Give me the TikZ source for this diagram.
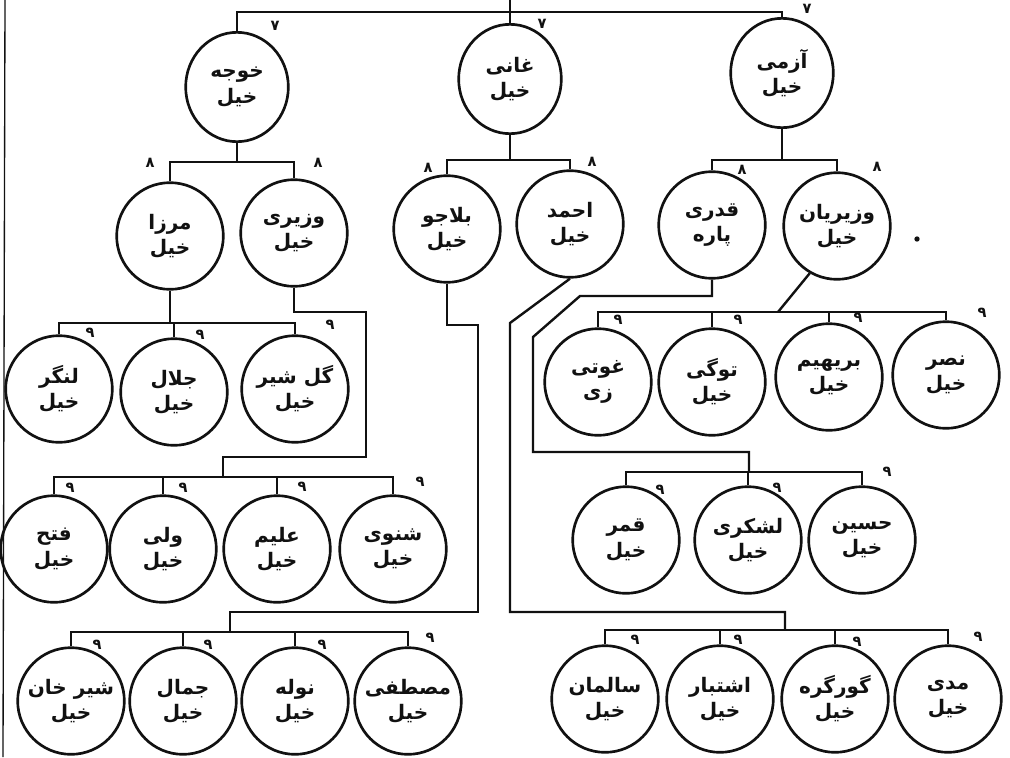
\documentclass[tikz,border=0pt]{standalone}
\usepackage{fontspec}
\usepackage{tikz}
\usetikzlibrary{shapes.geometric}
\TeXXeTstate=1
\newfontfamily\arabicfont[Script=Arabic]{DejaVu Sans}
\newcommand{\ur}[1]{{\arabicfont\beginR #1\endR}}
\definecolor{inkblack}{HTML}{111111}

\begin{document}
\begin{tikzpicture}[x=0.75pt, y=-0.75pt,
    khel/.style={circle, draw=inkblack, line width=2pt, minimum size=80pt, inner sep=0pt, font=\fontsize{15}{19}\selectfont\bfseries, align=center, text=inkblack},
    topkhel/.style={khel, ellipse, minimum width=77pt, minimum height=82pt},
    gennum/.style={font=\fontsize{11}{12}\selectfont\bfseries, inner sep=0pt, text=inkblack},
    link/.style={draw=inkblack, line width=1.8pt}
]
\fill[white] (0,0) rectangle (1010,757);
\useasboundingbox (0,0) rectangle (1010,757);

% first generation
\node[topkhel] (khoja) at (237,87) {\ur{خوجه}\\\ur{خیل}};
\node[topkhel] (ghani) at (510,79) {\ur{غانی}\\\ur{خیل}};
\node[topkhel] (azmi) at (782,73) {\ur{آزمی}\\\ur{خیل}};

% second generation
\node[khel] (mirza) at (170,236) {\ur{مرزا}\\\ur{خیل}};
\node[khel] (waziri) at (294,233) {\ur{وزیری}\\\ur{خیل}};
\node[khel] (balaju) at (447,229) {\ur{بلاجو}\\\ur{خیل}};
\node[khel] (ahmad) at (570,224) {\ur{احمد}\\\ur{خیل}};
\node[khel] (qadri) at (712,225) {\ur{قدری}\\\ur{پاره}};
\node[khel] (waziryan) at (837,226) {\ur{وزیریان}\\\ur{خیل}};

% third generation
\node[khel] (langar) at (59,389) {\ur{لنگر}\\\ur{خیل}};
\node[khel] (jalal) at (174,392) {\ur{جلال}\\\ur{خیل}};
\node[khel] (gulsher) at (295,389) {\ur{گل شیر}\\\ur{خیل}};
\node[khel] (ghoti) at (598,382) {\ur{غوتی}\\\ur{زی}};
\node[khel] (togi) at (712,382) {\ur{توگی}\\\ur{خیل}};
\node[khel] (brahim) at (829,377) {\ur{بریهیم}\\\ur{خیل}};
\node[khel] (nasr) at (946,375) {\ur{نصر}\\\ur{خیل}};

% fourth generation
\node[khel] (fatah) at (54,549) {\ur{فتح}\\\ur{خیل}};
\node[khel] (wali) at (163,549) {\ur{ولی}\\\ur{خیل}};
\node[khel] (alim) at (277,549) {\ur{علیم}\\\ur{خیل}};
\node[khel] (shanwi) at (393,549) {\ur{شنوی}\\\ur{خیل}};
\node[khel] (qamar) at (626,540) {\ur{قمر}\\\ur{خیل}};
\node[khel] (lashkari) at (748,540) {\ur{لشکری}\\\ur{خیل}};
\node[khel] (husain) at (862,540) {\ur{حسین}\\\ur{خیل}};

% fifth generation
\node[khel] (sherkhan) at (71,701) {\ur{شیر خان}\\\ur{خیل}};
\node[khel] (jamal) at (183,701) {\ur{جمال}\\\ur{خیل}};
\node[khel] (nola) at (295,701) {\ur{نوله}\\\ur{خیل}};
\node[khel] (mustafa) at (408,701) {\ur{مصطفی}\\\ur{خیل}};
\node[khel] (salman) at (605,699) {\ur{سالمان}\\\ur{خیل}};
\node[khel] (ishtabar) at (720,699) {\ur{اشتبار}\\\ur{خیل}};
\node[khel] (gorgara) at (835,699) {\ur{گورگره}\\\ur{خیل}};
\node[khel] (madi) at (948,699) {\ur{مدی}\\\ur{خیل}};

% junctions and bends
\coordinate (top) at (ghani.north |- 0,0);
\coordinate (topbar) at (ghani.north |- 0,12);
\coordinate (kbar) at (khoja.south |- 0,162);
\coordinate (gbar) at (ghani.south |- 0,160);
\coordinate (abar) at (azmi.south |- 0,160);
\coordinate (mbar) at (mirza.south |- 0,323);
\coordinate (wturn) at (366,312);
\coordinate (wdrop) at (223,457);
\coordinate (wbar) at (223,477);
\coordinate (bturn) at (478,325);
\coordinate (bdrop) at (230,612);
\coordinate (bbar) at (230,632);
\coordinate (hbend) at (510,323);
\coordinate (hdrop) at (785,612);
\coordinate (hbar) at (785,630);
\coordinate (qturn) at (580,296);
\coordinate (qbend) at (533,337);
\coordinate (qdrop) at (749,452);
\coordinate (qbar) at (749,472);
\coordinate (zbar) at (778,312);
\coordinate (edgetop) at (5,0);
\coordinate (edgebot) at (3,757);

% connectors
\draw[link] (top) -- (ghani.north);
\draw[link] (khoja.north) |- (topbar) -| (azmi.north);
\draw[link] (khoja.south) -- (kbar);
\draw[link] (mirza.north) |- (kbar) -| (waziri.north);
\draw[link] (ghani.south) -- (gbar);
\draw[link] (balaju.north) |- (gbar) -| (ahmad.north);
\draw[link] (azmi.south) -- (abar);
\draw[link] (qadri.north) |- (abar) -| (waziryan.north);

\draw[link] (mirza.south) -- (mbar);
\draw[link] (langar.north) |- (mbar) -| (gulsher.north);
\draw[link] (jalal.north) -- (jalal.north |- mbar);

\draw[link] (waziri.south) |- (wturn) |- (wdrop) -- (wbar);
\draw[link] (fatah.north) |- (wbar) -| (shanwi.north);
\draw[link] (wali.north) -- (wali.north |- wbar);
\draw[link] (alim.north) -- (alim.north |- wbar);

\draw[link] (balaju.south) |- (bturn) |- (bdrop) -- (bbar);
\draw[link] (sherkhan.north) |- (bbar) -| (mustafa.north);
\draw[link] (jamal.north) -- (jamal.north |- bbar);
\draw[link] (nola.north) -- (nola.north |- bbar);

\draw[link] (ahmad.south) -- (hbend) |- (hdrop) -- (hbar);
\draw[link] (salman.north) |- (hbar) -| (madi.north);
\draw[link] (ishtabar.north) -- (ishtabar.north |- hbar);
\draw[link] (gorgara.north) -- (gorgara.north |- hbar);

\draw[link] (qadri.south) |- (qturn) -- (qbend) |- (qdrop) -- (qbar);
\draw[link] (qamar.north) |- (qbar) -| (husain.north);
\draw[link] (lashkari.north) -- (lashkari.north |- qbar);

\draw[link] (waziryan.240) -- (zbar);
\draw[link] (ghoti.north) |- (zbar) -| (nasr.north);
\draw[link] (togi.north) -- (togi.north |- zbar);
\draw[link] (brahim.north) -- (brahim.north |- zbar);

\draw[inkblack, line width=1pt] (edgetop) -- (edgebot);
\fill[inkblack] (917,239) circle (2pt);

% generation numbers
\foreach \gx/\gy/\gn [count=\gi] in {
    275/26/۷, 542/24/۷, 807/9/۷,
    150/163/۸, 318/163/۸, 428/168/۸, 592/162/۸, 742/170/۸, 877/167/۸,
    90/333/۹, 200/335/۹, 330/325/۹,
    618/320/۹, 738/320/۹, 858/318/۹, 982/313/۹,
    70/488/۹, 183/488/۹, 302/487/۹, 420/482/۹,
    660/490/۹, 777/488/۹, 887/472/۹,
    97/645/۹, 208/645/۹, 322/645/۹, 430/638/۹,
    635/640/۹, 738/640/۹, 857/642/۹, 978/637/۹}
  \node[gennum] (g\gi) at (\gx,\gy) {\arabicfont \gn};
\end{tikzpicture}
\end{document}
